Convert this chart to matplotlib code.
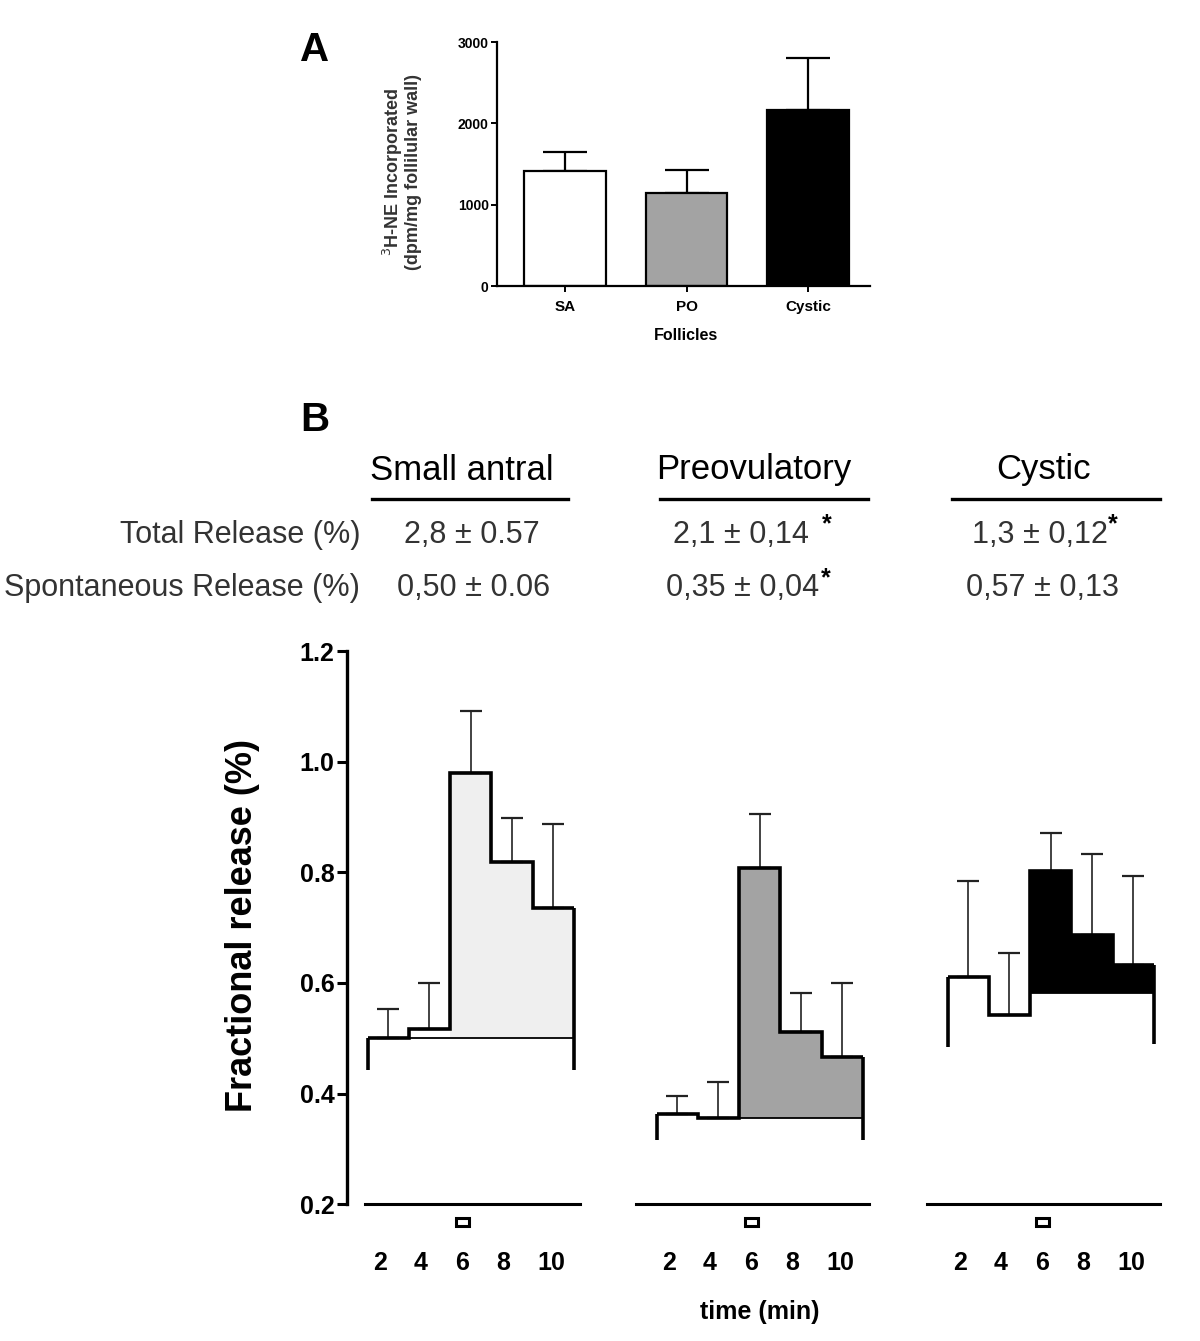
import numpy as np
import matplotlib
matplotlib.use("Agg")
import matplotlib.pyplot as plt
from matplotlib.lines import Line2D
from matplotlib.patches import Rectangle

# --- panel A: 3H-NE incorporated per follicle type
follicles = ["SA", "PO", "Cystic"]
incorporated = [1414, 1143, 2164]
incorporated_sem = [234, 283, 639]
bar_colors = ["white", "#a3a3a3", "black"]

# --- panel B: fractional release per 2-min fraction
groups = ["Small antral", "Preovulatory", "Cystic"]
total_release = ["2,8 ± 0.57", "2,1 ± 0,14", "1,3 ± 0,12"]
spont_release = ["0,50 ± 0.06", "0,35 ± 0,04", "0,57 ± 0,13"]
total_star = [False, True, True]
spont_star = [False, True, False]
time_labels = [2, 4, 6, 8, 10]
bin_edges = [0, 2, 4, 6, 8, 10]
stim_bin = 2

release = [
    [0.500, 0.517, 0.980, 0.819, 0.736],
    [0.363, 0.356, 0.808, 0.511, 0.466],
    [0.611, 0.542, 0.803, 0.687, 0.633],
]
release_sem = [
    [0.053, 0.083, 0.112, 0.080, 0.152],
    [0.032, 0.065, 0.098, 0.071, 0.134],
    [0.174, 0.112, 0.068, 0.146, 0.161],
]
spont_level = [0.500, 0.356, 0.582]
base_from = [1, 2, 2]
trace_floor = [(0.443, 0.443), (0.316, 0.316), (0.484, 0.490)]
fill_colors = ["#efefef", "#a3a3a3", "black"]

ARIAL = ["Liberation Sans", "DejaVu Sans"]
NARROW = ["Liberation Sans Narrow", "Liberation Sans", "DejaVu Sans"]

W, H = 1200, 1341
fig = plt.figure(figsize=(W / 100, H / 100), dpi=100)


def rect(x0, y0, x1, y1):
    # pixel box (top-left origin) -> figure fraction
    return [x0 / W, 1 - y1 / H, (x1 - x0) / W, (y1 - y0) / H]


def fpos(x, y):
    return x / W, 1 - y / H


# ---------------- panel A
axA = fig.add_axes(rect(497, 42, 870, 286))
xa = np.arange(len(follicles))
axA.errorbar(xa, incorporated, yerr=[np.zeros(len(xa)), incorporated_sem], fmt="none",
             ecolor="black", elinewidth=1.6, capsize=16, capthick=1.6, zorder=1)
axA.bar(xa, incorporated, width=0.67, color=bar_colors, edgecolor="black",
        linewidth=1.6, zorder=2)
axA.set_xlim(-0.56, 2.51)
axA.set_ylim(0, 3000)
axA.set_yticks([0, 1000, 2000, 3000])
axA.set_xticks(xa)
axA.set_xticklabels(follicles)
for s in ["top", "right"]:
    axA.spines[s].set_visible(False)
for s in ["left", "bottom"]:
    axA.spines[s].set_linewidth(1.6)
axA.tick_params(width=1.4, length=4, pad=2)
axA.tick_params(axis="x", pad=6)
for lab in axA.get_xticklabels() + axA.get_yticklabels():
    lab.set_family(ARIAL)
    lab.set_fontweight("bold")
    lab.set_fontsize(10)
for lab in axA.get_xticklabels():
    lab.set_fontsize(11)
fig.text(*fpos(686, 335), "Follicles", ha="center", va="center",
         family=ARIAL, fontweight="bold", fontsize=11.5)
fig.text(*fpos(401, 172), "$^{3}$H-NE Incorporated\n(dpm/mg follilular wall)",
         rotation=90, ha="center", va="center", family=ARIAL,
         fontweight="bold", fontsize=13, color="#333333", linespacing=1.0)
fig.text(*fpos(315, 50), "A", ha="center", va="center", family=ARIAL,
         fontweight="bold", fontsize=29)

# ---------------- panel B header table
fig.text(*fpos(315, 420), "B", ha="center", va="center", family=ARIAL,
         fontweight="bold", fontsize=29)
head_x = [462, 754, 1043]
line_x = [(372, 568), (660, 868), (952, 1160)]
val_x = [472, 741, 1040]
total_star_x = [None, 827, 1113]
spont_star_x = [None, 826, None]
for g in range(3):
    fig.text(*fpos(head_x[g], 470), groups[g], ha="center", va="center",
             family=NARROW, fontsize=25)
    x0, x1 = line_x[g]
    fig.add_artist(Line2D([x0 / W, x1 / W], [1 - 499 / H, 1 - 499 / H],
                          color="black", lw=2.4))
    fig.text(*fpos(val_x[g], 535), total_release[g], ha="center", va="center",
             family=NARROW, fontsize=22, color="#333333")
    fig.text(*fpos(val_x[g] + 2, 588), spont_release[g], ha="center", va="center",
             family=NARROW, fontsize=22, color="#333333")
    if total_star[g]:
        fig.text(*fpos(total_star_x[g], 524), "*", ha="center", va="center",
                 family=ARIAL, fontweight="bold", fontsize=18)
    if spont_star[g]:
        fig.text(*fpos(spont_star_x[g], 578), "*", ha="center", va="center",
                 family=ARIAL, fontweight="bold", fontsize=18)
fig.text(*fpos(360, 535), "Total Release (%)", ha="right", va="center",
         family=NARROW, fontsize=22, color="#333333")
fig.text(*fpos(360, 588), "Spontaneous Release (%)", ha="right", va="center",
         family=NARROW, fontsize=22, color="#333333")

# ---------------- panel B traces
lefts = [347, 636, 927]
line_start = [-0.15, -1.0, -1.0]
centers = [(a + b) / 2 for a, b in zip(bin_edges[:-1], bin_edges[1:])]
for g in range(3):
    ax = fig.add_axes(rect(lefts[g], 651.5, lefts[g] + 233, 1204))
    ax.set_xlim(-1, 10.3)
    ax.set_ylim(0.2, 1.2)
    ax.patch.set_alpha(0)
    vals = release[g]
    base = spont_level[g]

    # stimulated fractions filled above the spontaneous level
    ax.stairs(vals[stim_bin:], bin_edges[stim_bin:], baseline=base, fill=True,
              color=fill_colors[g], zorder=1)
    ax.hlines(base, bin_edges[base_from[g]], bin_edges[-1], color="black",
              lw=1.3, zorder=2)
    ax.errorbar(centers, vals, yerr=[np.zeros(len(vals)), release_sem[g]], fmt="none",
                ecolor="#222222", elinewidth=1.2, capsize=8, capthick=1.6, zorder=2)
    ax.stairs(vals, bin_edges, baseline=None, color="black", lw=2.6, zorder=3)
    ax.vlines([bin_edges[0], bin_edges[-1]], trace_floor[g], [vals[0], vals[-1]],
              color="black", lw=2.6, zorder=3)

    # stimulus marker
    ax.add_patch(Rectangle((bin_edges[stim_bin] + 0.3, 0.1595), 0.6, 0.015,
                           facecolor="white", edgecolor="black", lw=2.2,
                           clip_on=False))

    for s in ["top", "right"]:
        ax.spines[s].set_visible(False)
    ax.spines["bottom"].set_bounds(line_start[g], 10.3)
    ax.spines["bottom"].set_linewidth(2.2)
    ax.set_xticks([t - 1.75 for t in time_labels])
    ax.set_xticklabels([str(t) for t in time_labels])
    ax.tick_params(axis="x", length=0, pad=34)
    for lab in ax.get_xticklabels():
        lab.set_family(NARROW)
        lab.set_fontweight("bold")
        lab.set_fontsize(18)
        lab.set_horizontalalignment("left")
    if g == 0:
        ax.spines["left"].set_linewidth(2.4)
        ax.set_yticks([0.2, 0.4, 0.6, 0.8, 1.0, 1.2])
        ax.set_yticklabels(["0.2", "0.4", "0.6", "0.8", "1.0", "1.2"])
        ax.tick_params(axis="y", length=7, width=2.2, pad=2)
        for lab in ax.get_yticklabels():
            lab.set_family(ARIAL)
            lab.set_fontweight("bold")
            lab.set_fontsize(18)
    else:
        ax.spines["left"].set_visible(False)
        ax.set_yticks([])

fig.text(*fpos(243, 925), "Fractional release (%)", rotation=90, ha="center",
         va="center", family=ARIAL, fontweight="bold", fontsize=26)
fig.text(*fpos(760, 1312), "time (min)", ha="center", va="center",
         family=NARROW, fontweight="bold", fontsize=18)

fig.savefig("out.png", dpi=100)
